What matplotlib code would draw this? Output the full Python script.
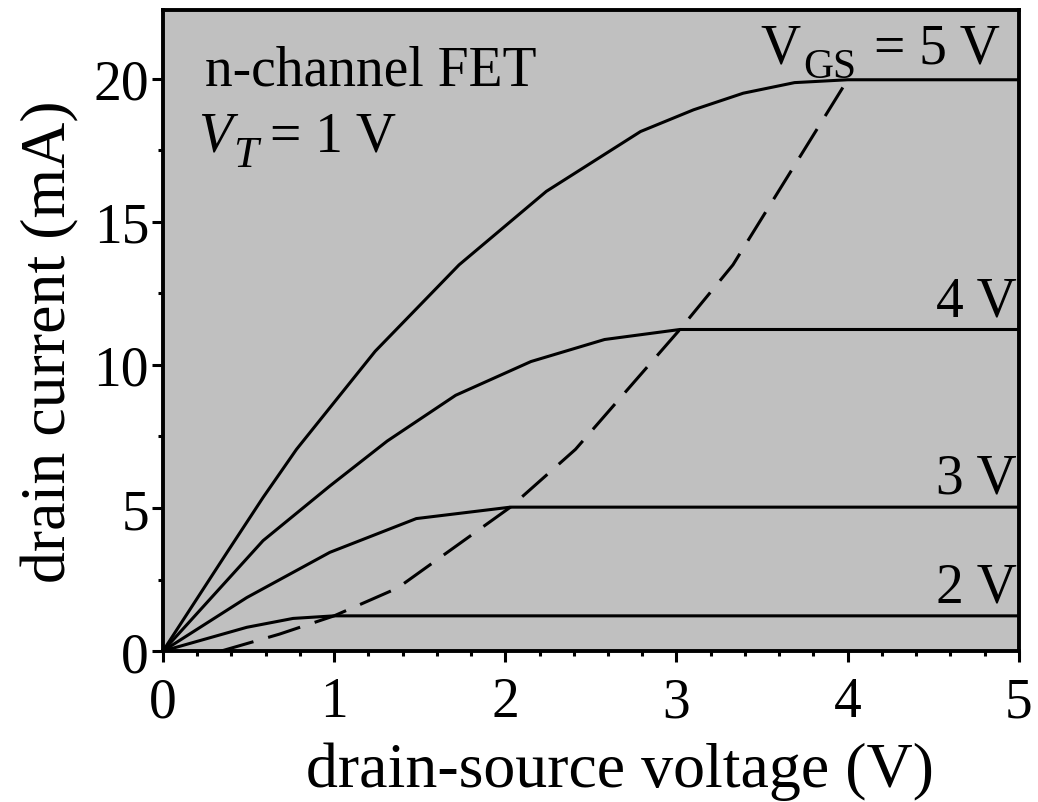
import matplotlib
matplotlib.use('Agg')
import matplotlib.pyplot as plt
from matplotlib.ticker import MultipleLocator

plt.rcParams['font.family'] = ['Liberation Serif', 'DejaVu Serif']

# Drain characteristics (V, mA)
vds_5v = [0, 0.38, 0.585, 0.78, 1.24, 1.73, 2.24, 2.79, 3.10, 3.39, 3.69, 4.0, 5.0]
id_5v = [0, 3.5, 5.37, 7.05, 10.48, 13.5, 16.07, 18.16, 18.92, 19.5, 19.87, 19.97, 19.97]

vds_4v = [0, 0.585, 0.975, 1.31, 1.71, 2.15, 2.58, 3.02, 5.0]
id_4v = [0, 3.86, 5.77, 7.34, 8.94, 10.12, 10.89, 11.24, 11.24]

vds_3v = [0, 0.49, 0.975, 1.48, 2.03, 5.0]
id_3v = [0, 1.87, 3.45, 4.63, 5.03, 5.03]

vds_2v = [0, 0.49, 0.76, 1.0, 5.0]
id_2v = [0, 0.83, 1.14, 1.23, 1.23]

# saturation boundary (dashed)
vds_sat = [0.34, 0.68, 1.0, 1.37, 2.03, 2.41, 3.02, 3.33, 4.0]
id_sat = [0, 0.59, 1.23, 2.2, 5.03, 7.05, 11.24, 13.5, 19.97]

curve_labels = ['2 V', '3 V', '4 V']

W, H = 1038, 803
fig = plt.figure(figsize=(W / 100, H / 100), dpi=100)
ax = fig.add_axes([0.157, 0.188, 0.8245, 0.798])
ax.set_facecolor('#c0c0c0')


def px(x, y):
    # figure pixel position -> figure fraction
    return x / W, 1 - y / H


lw = 2.2
for x, y in [(vds_5v, id_5v), (vds_4v, id_4v), (vds_3v, id_3v), (vds_2v, id_2v)]:
    ax.plot(x, y, color='black', linewidth=lw, solid_joinstyle='miter')
ax.plot(vds_sat, id_sat, color='black', linewidth=lw, dashes=(11, 5))

ax.set_xlim(0, 5)
ax.set_ylim(0, 22.4)
ax.xaxis.set_major_locator(MultipleLocator(1))
ax.xaxis.set_minor_locator(MultipleLocator(0.2))
ax.yaxis.set_major_locator(MultipleLocator(5))
ax.yaxis.set_minor_locator(MultipleLocator(2.5))

for s in ax.spines.values():
    s.set_linewidth(2.8)
ax.tick_params(which='major', direction='out', length=8, width=2.2, labelsize=40)
ax.tick_params(which='minor', direction='out', length=3.5, width=2.2)
ax.tick_params(axis='x', which='major', pad=10)
ax.tick_params(axis='y', which='major', pad=2)

# axis labels
fig.text(*px(620, 787), 'drain-source voltage (V)', fontsize=46,
         ha='center', va='baseline')
fig.text(*px(50, 342), 'drain current (mA)', fontsize=46,
         ha='center', va='center', rotation=90)

# annotations
fig.text(*px(205, 85), 'n-channel FET', fontsize=40, va='baseline')
fig.text(*px(198, 152), 'V', fontsize=40, fontstyle='italic', va='baseline')
fig.text(*px(233, 167), 'T', fontsize=32, fontstyle='italic', va='baseline')
fig.text(*px(270, 152), '= 1 V', fontsize=40, va='baseline')

fig.text(*px(760, 63), 'V', fontsize=40, va='baseline')
fig.text(*px(803, 78), 'GS', fontsize=30, va='baseline')
fig.text(*px(1000, 63), '= 5 V', fontsize=40, ha='right', va='baseline')

for v, lab in zip([id_2v[-1], id_3v[-1], id_4v[-1]], curve_labels):
    ax.text(4.99, v + 0.5, lab, fontsize=40, ha='right', va='baseline')

plt.savefig('out.png', dpi=100)
